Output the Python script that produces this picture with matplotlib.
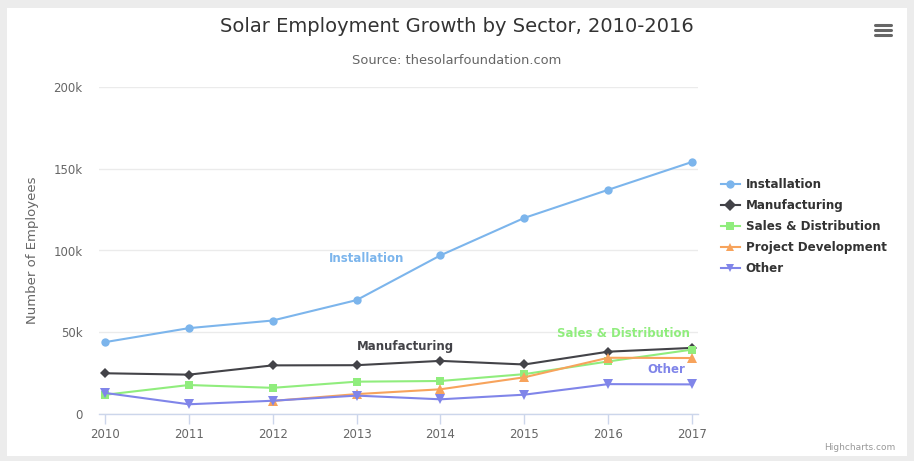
import numpy as np
import matplotlib
matplotlib.use("Agg")
import matplotlib.pyplot as plt
from matplotlib.lines import Line2D

#%% data
years = [2010, 2011, 2012, 2013, 2014, 2015, 2016, 2017]
installation = [43934, 52503, 57177, 69658, 97031, 119931, 137133, 154175]
manufacturing = [24916, 24064, 29742, 29851, 32490, 30282, 38121, 40434]
sales_distribution = [11744, 17722, 16005, 19771, 20185, 24377, 32147, 39387]
project_development = [np.nan, np.nan, 7988, 12169, 15112, 22452, 34400, 34227]
other = [12908, 5948, 8105, 11248, 8989, 11816, 18274, 18111]

series_names = ["Installation", "Manufacturing", "Sales & Distribution",
                "Project Development", "Other"]
series_values = [installation, manufacturing, sales_distribution,
                 project_development, other]
colors = ["#7cb5ec", "#434348", "#90ed7d", "#f7a35c", "#8085e9"]
markers = ["o", "D", "s", "^", "v"]
y_ticks = [0, 50000, 100000, 150000, 200000]
y_tick_labels = ["0", "50k", "100k", "150k", "200k"]

base = "DejaVu Sans"

W, H = 914, 461
fig = plt.figure(figsize=(W / 100, H / 100), dpi=100)
fig.patch.set_facecolor("#ececec")

# white card behind everything
card = plt.Rectangle((7 / W, 1 - 456 / H), 900 / W, 448 / H, transform=fig.transFigure,
                     facecolor="white", edgecolor="none", zorder=-5)
fig.patches.append(card)

ax = fig.add_axes([99 / W, 1 - 414 / H, (698 - 99) / W, (414 - 87) / H])
ax.set_facecolor("none")
ax.set_zorder(1)

for name, vals, c, m in zip(series_names, series_values, colors, markers):
    ms = 6.5 if m in ("^", "v") else (5.0 if m == "D" else 6.0)
    ax.plot(years, vals, color=c, lw=1.5, marker=m, markersize=ms,
            markeredgewidth=0, label=name, zorder=3, clip_on=False)

ax.set_xlim(2009.93, 2017.07)
ax.set_ylim(0, 200000)
ax.set_yticks(y_ticks)
ax.set_yticklabels(y_tick_labels)
ax.set_xticks(years)
ax.grid(axis="y", color="#ebebeb", lw=1)
ax.set_axisbelow(True)
for s in ["top", "right", "left"]:
    ax.spines[s].set_visible(False)
ax.spines["bottom"].set_color("#ccd6eb")
ax.spines["bottom"].set_linewidth(1)
ax.tick_params(axis="x", colors="#ccd6eb", length=7, width=1, labelcolor="#666666",
               labelsize=8.5, pad=3)
ax.tick_params(axis="y", length=0, labelcolor="#666666", labelsize=8.5, pad=12)
for t in ax.get_xticklabels() + ax.get_yticklabels():
    t.set_family(base)

ax.set_ylabel("Number of Employees", color="#666666", fontsize=9.5, family=base,
              labelpad=10)

# series labels on the chart
ax.text(2013.12, 95000, "Installation", color=colors[0], fontsize=8.5,
        fontweight="bold", ha="center", va="center", family=base)
ax.text(2013.58, 41000, "Manufacturing", color=colors[1], fontsize=8.5,
        fontweight="bold", ha="center", va="center", family=base)
ax.text(2016.18, 49000, "Sales & Distribution", color=colors[2], fontsize=8.5,
        fontweight="bold", ha="center", va="center", family=base)
ax.text(2016.69, 27500, "Other", color=colors[4], fontsize=8.5,
        fontweight="bold", ha="center", va="center", family=base)

# legend
handles = [Line2D([], [], color=c, lw=1.5, marker=m, markersize=6, markeredgewidth=0)
           for c, m in zip(colors, markers)]
leg = fig.legend(handles, series_names, loc="upper left",
                 bbox_to_anchor=(710 / W, 1 - 167 / H), frameon=False,
                 handlelength=1.6, handletextpad=0.5, labelspacing=0.68,
                 prop={"family": base, "weight": "bold", "size": 8.6})
for t in leg.get_texts():
    t.set_color("#333333")

# titles
fig.text(457 / W, 1 - 26 / H, "Solar Employment Growth by Sector, 2010-2016",
         ha="center", va="center", fontsize=14, color="#333333", family=base)
fig.text(457 / W, 1 - 60 / H, "Source: thesolarfoundation.com",
         ha="center", va="center", fontsize=9.4, color="#666666", family=base)

# credits
fig.text(895 / W, 1 - 447 / H, "Highcharts.com", ha="right", va="center",
         fontsize=6.5, color="#999999", family=base)

# menu icon
for yy in (25, 30, 35):
    fig.add_artist(Line2D([875 / W, 891 / W], [1 - yy / H, 1 - yy / H],
                          color="#666666", lw=2.2, solid_capstyle="round"))

fig.savefig("out.png", dpi=100)
